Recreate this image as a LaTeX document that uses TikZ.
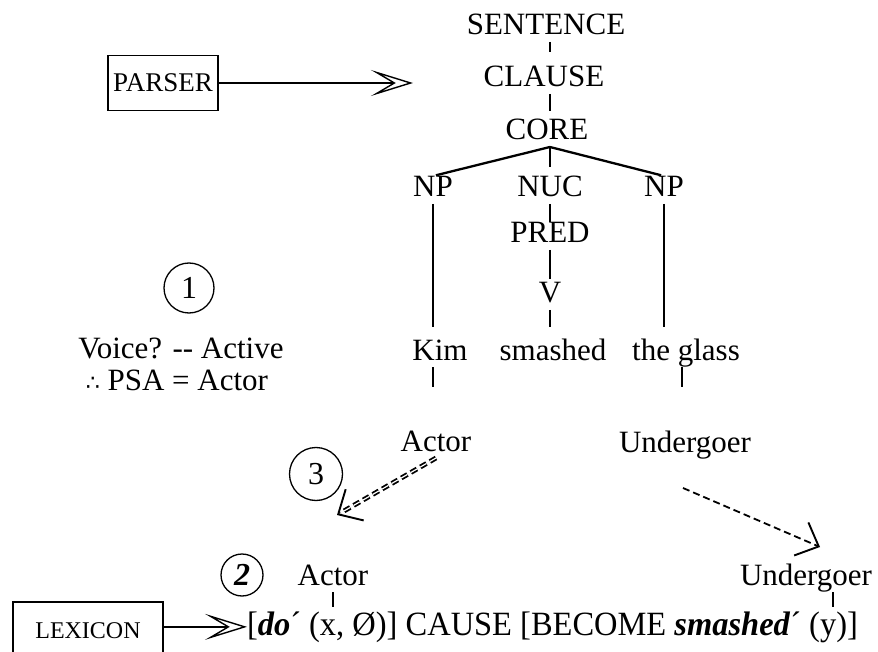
\documentclass[tikz,border=0pt]{standalone}
\usepackage{graphicx}
\usepackage{fontspec}
\setmainfont{Liberation Serif}
\newfontfamily\symfont{DejaVu Sans}
\usetikzlibrary{arrows.meta,calc}

\begin{document}
\begin{tikzpicture}[
            x=1pt, y=-1pt,
            font=\fontsize{31}{36}\selectfont,
            lbl/.style={inner sep=0pt, outer sep=0pt, text height=21pt, text depth=7pt},
            txt/.style={inner sep=0pt, outer sep=0pt, anchor=base},
            box/.style={draw, line width=1.4pt, inner sep=0pt, outer sep=0pt},
            num/.style={draw, circle, line width=1.3pt, inner sep=0pt,
            font=\fontsize{32}{36}\selectfont},
            tline/.style={line width=1.7pt, shorten >=#1},
            tline/.default=8pt,
            branch/.style={line width=2.3pt, shorten >=3pt},
            feed/.style={line width=1.6pt,
            -{Stealth[open, length=42pt, width=26pt, inset=22pt, line width=1.4pt]}},
            link/.style={line width=1.8pt, dash pattern=on 7pt off 4pt,
            -{Straight Barb[length=19pt, width=36pt, line width=1.9pt]}}
        ]
            \useasboundingbox (0,0) rectangle (878,652);

% --- clause tree ---
            \node[lbl] (sent)   at (546,28)  {SENTENCE};
            \node[lbl] (clause) at (544,80)  {CLAUSE};
            \node[lbl] (core)   at (547,133) {CORE};
            \node[lbl] (npa)    at (433,190) {NP};
            \node[lbl] (nuc)    at (550,190) {NUC};
            \node[lbl] (npb)    at (664,190) {NP};
            \node[lbl] (pred)   at (550,236) {PRED};
            \node[lbl] (verb)   at (550,296) {V};
            \node[lbl] (kim)    at (440,353) {Kim};
            \node[lbl] (smash)  at (553,353) {smashed};
            \node[lbl] (glass)  at (686,353) {the glass};

            \draw[tline=14pt] (sent.south -| nuc) -- (clause.north -| nuc);
            \draw[tline]      (clause.south -| nuc) -- (core.north -| nuc);
            \draw[branch]     (core.south -| nuc) -- (npa.north);
            \draw[branch]     (core.south -| nuc) -- (npb.north);
            \draw[tline=9pt]  (core.south -| nuc) -- (nuc.north);
            \draw[tline=0pt]  (nuc) -- (pred);
            \draw[tline=3pt]  (pred) -- (verb);
            \draw[tline=12pt] (verb) -- (smash.north -| verb);
            \draw[tline=12pt] (npa) -- (npa |- kim.north);
            \draw[tline=12pt] (npb) -- (npb |- glass.north);

% stubs under the arguments
            \coordinate (kimstub)   at (433,387);
            \coordinate (glassstub) at (682,387);
            \draw[tline=0pt] (kim.south -| kimstub) -- (kimstub);
            \draw[tline=0pt] (glass.south -| glassstub) -- (glassstub);

% --- parser input ---
            \node[box, minimum width=110pt, minimum height=55pt,
            font=\fontsize{27}{30}\selectfont] (pars) at (163,83) {PARSER};
            \coordinate (ptip) at (413,83);
            \draw[feed] (pars) -- (ptip);

% --- step 1: voice ---
            \node[num, minimum size=50pt] (one) at (189,288) {1};
            \node[txt] (voice) at (181,358) {Voice? {-}{-} Active};
            \node[txt] (psa)   at (177,390) {{\symfont\fontsize{22}{24}\selectfont ∴} PSA = Actor};

% --- macroroles ---
            \node[lbl] (actA) at (436,444) {Actor};
            \node[lbl] (undA) at (685,445) {Undergoer};

% step 3: linking down to the logical structure
            \node[num, minimum size=53pt] (three) at (316,474) {3};
            \coordinate (tipA) at (337,515);
            \coordinate (tipU) at (820,547);
            \draw[link, double, double distance=1.2pt] (actA.south) -- (tipA);
            \draw[link] ($(undA.south)+(-2,29)$) -- (tipU);

% --- step 2: lexicon and logical structure ---
            \node[num, minimum size=42pt] (two) at (242,575) {\textbf{\textit{2}}};
            \node[lbl] (actB) at (333,578) {Actor};
            \node[lbl] (undB) at (806,578) {Undergoer};
            \node[inner sep=0pt, outer sep=0pt, anchor=base west,
            font=\fontsize{34}{38}\selectfont] (frm) at (247,635)
            {\scalebox{0.955}[1]{[\textbf{\textit{do}}´ (x, Ø)] CAUSE [BECOME \textbf{\textit{smashed}}´ (y)]}};

            \coordinate (xarg) at (333,607);
            \coordinate (yarg) at (833,607);
            \draw[tline=0pt] (actB) -- (xarg);
            \draw[tline=0pt] (undB.south -| yarg) -- (yarg);

            \node[box, minimum width=150pt, minimum height=58pt,
            font=\fontsize{24}{28}\selectfont] (lex) at (88,631) {LEXICON};
            \draw[feed] (lex.east |- frm.west) -- (frm.west);
        \end{tikzpicture}
\end{document}
